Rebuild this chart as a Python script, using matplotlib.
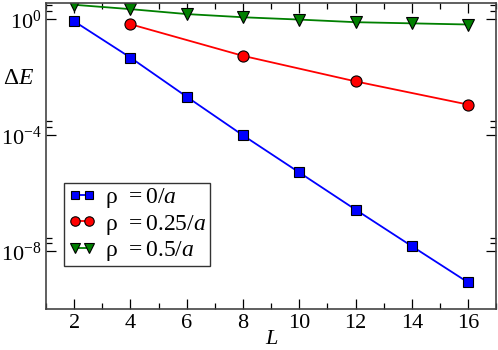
import numpy as np
import matplotlib.pyplot as plt
from matplotlib.ticker import MultipleLocator, FixedLocator

# values (log10 of Delta E)
L_blue = [2, 4, 6, 8, 10, 12, 14, 16]
logE_blue = [-0.07, -1.32, -2.67, -4.0, -5.28, -6.56, -7.82, -9.07]
L_red = [4, 8, 12, 16]
logE_red = [-0.17, -1.26, -2.14, -2.94]
L_green = [2, 4, 6, 8, 10, 12, 14, 16]
logE_green = [0.50, 0.35, 0.18, 0.07, -0.01, -0.10, -0.14, -0.18]

labels = [r'$\mathrm{\rho\ \,=0/}a$', r'$\mathrm{\rho\ \,=0.25/}a$', r'$\mathrm{\rho\ \,=0.5/}a$']

plt.rcParams['font.family'] = ['Liberation Serif', 'DejaVu Serif']
plt.rcParams['mathtext.fontset'] = 'custom'
plt.rcParams['mathtext.rm'] = 'Liberation Serif'
plt.rcParams['mathtext.it'] = 'Liberation Serif:italic'

fig = plt.figure(figsize=(4.98, 3.5), dpi=100)
ax = fig.add_axes([0.0924, 0.116, 0.904, 0.876])

ax.plot(L_blue, 10**np.array(logE_blue), '-s', color='blue', mfc='blue', mec='black',
        mew=0.8, ms=7, lw=1.3, label=labels[0])
ax.plot(L_red, 10**np.array(logE_red), '-o', color='red', mfc='red', mec='black',
        mew=0.8, ms=8, lw=1.3, label=labels[1])
ax.plot(L_green, 10**np.array(logE_green), '-v', color='green', mfc='green', mec='black',
        mew=0.8, ms=8, lw=1.3, label=labels[2])

ax.set_yscale('log')
ax.set_xlim(1, 17)
ax.set_ylim(1e-10, 3.7)

ax.xaxis.set_major_locator(MultipleLocator(2))
ax.xaxis.set_minor_locator(MultipleLocator(1))
ax.yaxis.set_major_locator(FixedLocator([1e-8, 1e-4, 1e0]))
ax.yaxis.set_minor_locator(FixedLocator([2e-8, 3e-8, 2e-4, 3e-4, 2e0, 3e0]))
ax.yaxis.set_major_formatter(plt.FuncFormatter(
    lambda v, p: r'$\mathrm{10^{%d}}$' % int(round(np.log10(v)))))

ax.tick_params(which='both', direction='in', top=True, right=True, labelsize=16, width=0.9)
ax.tick_params(which='major', length=7, pad=3)
ax.tick_params(which='minor', length=4)
for s in ax.spines.values():
    s.set_linewidth(1.2)
    s.set_color('#444444')

fig.text(272 / 498, 1 - 339 / 350, r'$L$', fontsize=16, ha='center', va='center')
fig.text(3 / 498, 1 - 79 / 350, r'$\Delta E$', fontsize=17, ha='left', va='center')

leg = ax.legend(loc='lower left', bbox_to_anchor=(0.04, 0.14), fontsize=17,
                frameon=True, fancybox=False, handlelength=1.2, handletextpad=0.4,
                borderpad=0.15, labelspacing=0.1, numpoints=2, borderaxespad=0,
                markerscale=0.85)
leg.get_frame().set_edgecolor('black')
leg.get_frame().set_linewidth(1.0)

fig.savefig('out.png', dpi=100)
